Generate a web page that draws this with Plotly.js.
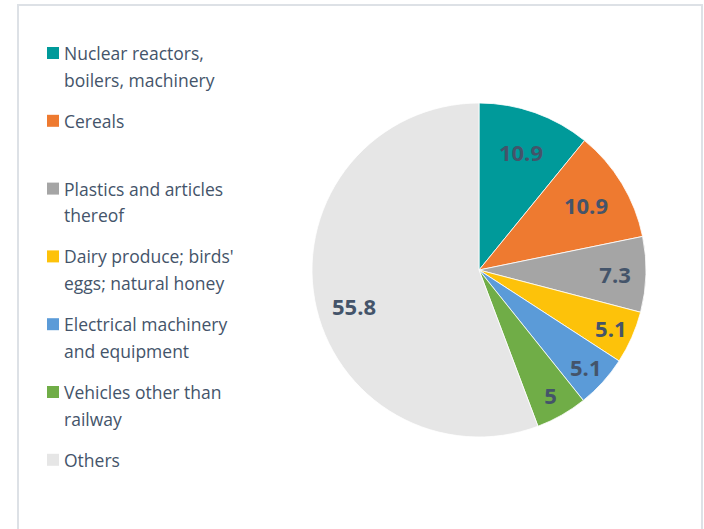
<!DOCTYPE html>
<html>
<head>
<meta charset="utf-8">
<script src="https://cdn.plot.ly/plotly-3.0.1.min.js"></script>
<style>
  html, body { margin: 0; padding: 0; background: #fff; }
  #myDiv { width: 704px; height: 529px; }
</style>
</head>
<body>
<div id="myDiv"></div>
<script>
//---------------------- DATA ---------------------------
var labels = [
  'Nuclear reactors,<br>boilers, machinery',
  'Cereals',
  'Plastics and articles<br>thereof',
  "Dairy produce; birds'<br>eggs; natural honey",
  'Electrical machinery<br>and equipment',
  'Vehicles other than<br>railway',
  'Others'
];
var values = [10.9, 10.9, 7.3, 5.1, 5.1, 5, 55.8];
var colors = ['#009A9A', '#EE7A30', '#A5A5A5', '#FDC20A', '#5B9BD8', '#70AD47', '#E6E6E6'];

//---------------------- PIE CHART ---------------------------
var W = 704, H = 529;
var textColor = '#44546A';
var labelFont = { family: 'Open Sans', size: 22, color: textColor, weight: 'bold' };

// pie geometry (pixels) -> domain
var cx = 479, cy = 270, R = 167;

// the big slice gets its label near the rim like the others, not in the middle
var textpos = values.map(function (v, i) { return i === values.length - 1 ? 'none' : 'inside'; });

var datapie = [{
  type: 'pie',
  values: values,
  labels: labels,
  sort: false,
  direction: 'clockwise',
  rotation: 0,
  marker: { colors: colors, line: { color: '#ffffff', width: 0.8 } },
  textinfo: 'value',
  textposition: textpos,
  insidetextorientation: 'horizontal',
  textfont: labelFont,
  hoverinfo: 'label+value',
  domain: { x: [(cx - R) / W, (cx + R) / W], y: [1 - (cy + R) / H, 1 - (cy - R) / H] },
  showlegend: false
}];

var shapes = [{
  type: 'rect', xref: 'paper', yref: 'paper',
  x0: 18 / W, x1: 702 / W, y0: -0.05, y1: 1 - 5 / H,
  line: { color: '#DDE1E6', width: 2 }
}];
var annotations = [];

// label for the last slice, placed on its bisector
var total = values.reduce(function (a, b) { return a + b; }, 0);
var before = total - values[values.length - 1];
var mid = (before + values[values.length - 1] / 2) / total * 2 * Math.PI - 0.1;
annotations.push({
  xref: 'paper', yref: 'paper',
  x: (cx + 0.78 * R * Math.sin(mid)) / W,
  y: 1 - (cy - 0.78 * R * Math.cos(mid)) / H,
  xanchor: 'center', yanchor: 'middle',
  text: String(values[values.length - 1]), showarrow: false,
  font: labelFont
});

// hand-made legend so every entry gets the same slot height
var slotTop = 53, slotH = 67.8, lineGap = 26.5;
labels.forEach(function (lab, i) {
  var yc = slotTop + i * slotH;
  shapes.push({
    type: 'rect', xref: 'paper', yref: 'paper',
    x0: 47 / W, x1: 59 / W,
    y0: 1 - (yc + 6) / H, y1: 1 - (yc - 6) / H,
    fillcolor: colors[i], line: { width: 0 }
  });
  lab.split('<br>').forEach(function (line, j) {
    annotations.push({
      xref: 'paper', yref: 'paper',
      x: 62 / W, y: 1 - (yc + j * lineGap) / H,
      xanchor: 'left', yanchor: 'middle',
      text: line, showarrow: false,
      font: { family: 'Open Sans', size: 17.5, color: textColor }
    });
  });
});

var layout = {
  width: W,
  height: H,
  margin: { l: 0, r: 0, t: 0, b: 0 },
  paper_bgcolor: '#ffffff',
  showlegend: false,
  shapes: shapes,
  annotations: annotations
};

Plotly.newPlot('myDiv', datapie, layout, { displayModeBar: false });
</script>
</body>
</html>
